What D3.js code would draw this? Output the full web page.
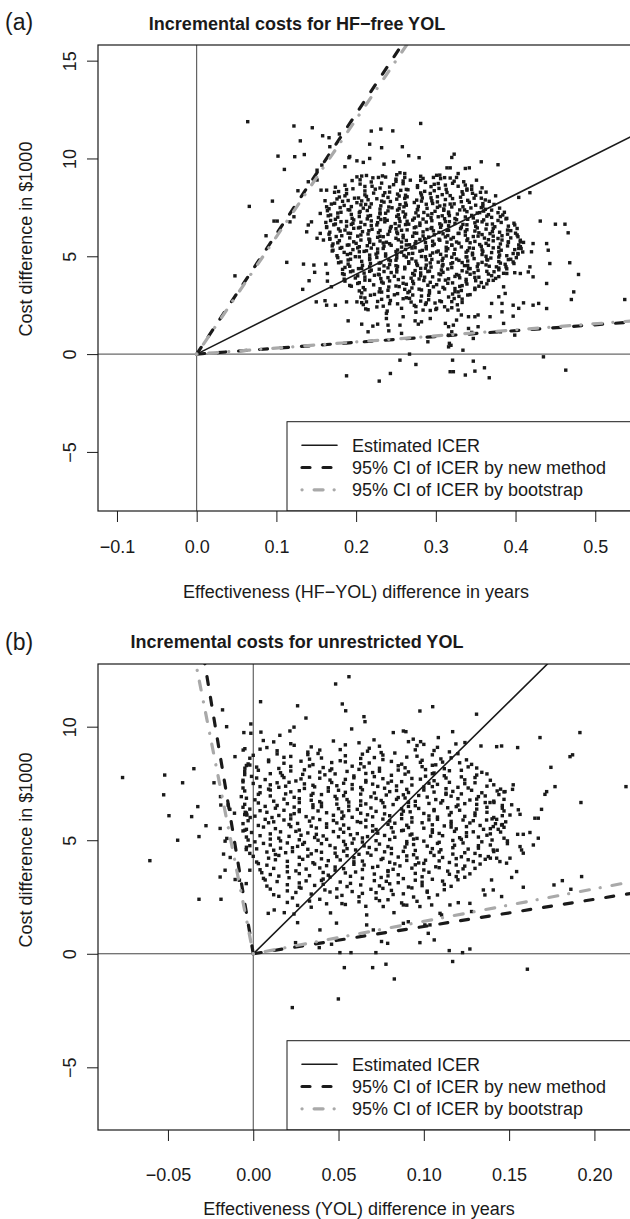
<!DOCTYPE html>
<html>
<head>
<meta charset="utf-8">
<script src="https://cdn.jsdelivr.net/npm/d3@7"></script>
<style>
  body { margin: 0; background: #fff; }
  svg { display: block; }
</style>
</head>
<body>
<script>
// ---- data ----
// panel (a): effectiveness (HF-YOL, years) vs cost ($1000)
const aPoints = [
  // scattered points round the cloud
  [.064,11.88],[.122,11.66],[.145,11.57],[.158,11.16],[.166,11.06],[.179,11.25],[.130,10.9],[.167,10.6],[.102,10.12],[.123,10.09],[.135,10.2],[.191,10.04],[.110,9.44],[.151,9.4],[.157,9.66],[.186,9.58],
  [.066,7.55],[.095,7.82],[.097,6.8],[.101,6.8],[.127,8.35],[.048,4.0],[.113,4.69],[.134,4.6],[.141,3.75],[.133,3.31],[.148,4.18],[.147,4.55],[.162,4.6],[.164,4.12],[.164,3.73],[.169,3.44],[.161,2.73],[.174,2.5],
  [.117,6.76],[.122,7.02],[.087,6.05],[.140,6.6],[.138,6.25],[.144,6.76],[.159,5.83],[.155,6.17],[.151,5.92],
  [.140,8.81],[.156,8.38],[.163,8.38],[.151,8.9],[.161,7.84],[.163,7.53],[.155,7.19],
  [.281,11.79],[.219,11.4],[.231,11.5],[.246,11.41],[.217,10.73],[.232,10.55],[.258,10.6],[.266,10.14],[.279,10.04],[.320,10.05],[.323,10.22],
  [.192,10.1],[.201,9.88],[.209,9.8],[.217,10.0],[.235,9.71],[.247,9.83],[.357,9.83],[.378,9.68],
  [.314,9.52],[.318,9.52],[.337,9.49],[.342,9.52],[.328,9.23],[.326,9.03],
  [.255,9.27],[.261,9.23],[.201,9.06],[.207,9.1],[.228,9.03],[.233,9.11],[.268,8.89],[.284,8.98],[.297,9.03],[.305,9.15],
  [.337,8.64],[.345,8.42],[.351,8.89],[.375,8.09],[.404,8.01],[.418,8.25],
  [.431,6.80],[.450,6.64],[.462,6.64],[.466,6.2],[.439,5.65],[.441,5.31],[.443,4.63],[.468,4.67],[.479,4.07],
  [.406,5.74],[.410,5.71],[.420,5.23],[.422,5.65],[.404,5.4],[.403,5.14],
  [.376,4.46],[.389,4.12],[.399,4.16],[.406,4.12],[.416,4.2],[.418,4.46],[.422,3.95],
  [.439,3.61],[.473,3.18],[.470,2.79],[.537,2.79],[.422,2.5],[.429,2.59],[.439,2.33],
  [.385,3.44],[.387,3.1],[.379,2.93],[.370,2.59],
  [.188,-1.11],[.229,-1.38],[.243,-0.99],[.267,0],[.255,-0.31],[.275,-0.53],[.321,-0.31],[.334,0.2],[.347,-0.36],[.318,-0.9],[.322,-0.9],[.337,-1.07],[.349,-0.87],[.361,-0.7],[.367,-1.21],[.435,-0.14],[.463,-0.82],[.316,0.37],[.290,0.63],[.317,0.55],[.319,0.45],
  [.368,1.91],[.383,2.16],[.385,1.57],[.397,1.94],[.381,1.14],[.399,0.97],[.383,2.59],[.397,2.5],[.404,2.34],[.410,2.62],
  [.341,1.31],[.345,1.11],[.347,0.80],[.353,1.40],[.328,2.25],[.332,2.0],[.341,1.91],[.349,1.91],[.353,2.0],
  [.312,1.57],[.316,1.40],[.322,1.48],[.326,1.74],[.320,1.14],[.316,0.97],
  [.284,2.25],[.288,2.62],[.301,2.34],[.307,2.68],[.274,1.70],[.282,1.65],[.278,1.53],[.293,1.82],
  [.255,1.48],[.257,1.06],[.259,1.91],[.238,2.08],[.238,1.82],[.240,1.48],[.241,1.19],
  [.190,1.70],[.207,1.53],[.215,1.14],[.221,1.43],[.227,1.53],[.188,2.67],[.201,2.67],[.213,2.67],[.163,2.50],[.150,2.67],
  // dense core, row by row from the top
  [.213,9.13],[.237,9.05],[.251,9.17],[.281,9.09],[.301,9.14],[.311,9.02],
  [.205,8.91],[.221,9.01],[.25,8.94],[.261,9.03],[.281,8.88],[.306,8.97],[.318,9.0],
  [.195,8.87],[.219,8.8],[.232,8.74],[.25,8.83],[.259,8.85],[.287,8.78],[.303,8.72],[.323,8.84],[.335,8.81],
  [.186,8.63],[.205,8.69],[.22,8.58],[.247,8.66],[.259,8.71],[.277,8.61],[.298,8.68],[.312,8.64],[.321,8.73],[.345,8.59],
  [.174,8.53],[.196,8.45],[.211,8.57],[.23,8.49],[.242,8.54],[.263,8.42],[.277,8.52],[.294,8.56],[.304,8.47],[.328,8.58],[.339,8.44],[.358,8.5],
  [.178,8.31],[.188,8.41],[.211,8.34],[.224,8.43],[.242,8.28],[.256,8.37],[.265,8.4],[.286,8.32],[.298,8.35],[.313,8.42],[.333,8.3],[.339,8.38],[.356,8.27],
  [.173,8.27],[.188,8.2],[.211,8.14],[.222,8.23],[.236,8.25],[.252,8.18],[.262,8.12],[.281,8.24],[.293,8.21],[.308,8.15],[.314,8.26],[.334,8.17],[.346,8.22],[.363,8.28],
  [.179,8.03],[.186,8.09],[.203,7.98],[.213,8.06],[.234,8.11],[.24,8.01],[.254,8.08],[.264,8.04],[.282,8.13],[.294,7.99],[.302,8.05],[.318,8.1],[.331,8.02],[.35,8.12],[.357,7.97],
  [.176,7.93],[.19,7.85],[.198,7.97],[.215,7.89],[.226,7.94],[.232,7.82],[.251,7.92],[.261,7.96],[.276,7.87],[.283,7.98],[.295,7.84],[.312,7.9],[.321,7.95],[.34,7.86],[.348,7.97],[.362,7.88],
  [.173,7.71],[.183,7.81],[.201,7.74],[.207,7.83],[.219,7.68],[.235,7.77],[.243,7.8],[.262,7.72],[.273,7.75],[.282,7.82],[.296,7.7],[.302,7.78],[.318,7.67],[.332,7.79],[.342,7.76],[.359,7.69],[.367,7.81],
  [.169,7.67],[.185,7.6],[.194,7.54],[.206,7.63],[.212,7.65],[.231,7.58],[.241,7.52],[.255,7.64],[.263,7.61],[.278,7.55],[.288,7.66],[.305,7.57],[.311,7.62],[.323,7.68],[.334,7.53],[.35,7.61],[.359,7.56],[.373,7.65],
  [.166,7.43],[.18,7.49],[.19,7.38],[.209,7.46],[.217,7.51],[.23,7.41],[.245,7.48],[.254,7.44],[.26,7.53],[.277,7.39],[.289,7.45],[.302,7.5],[.31,7.42],[.32,7.52],[.336,7.37],[.344,7.47],[.357,7.49],[.362,7.4],[.38,7.46],
  [.164,7.33],[.181,7.25],[.192,7.37],[.205,7.29],[.214,7.34],[.23,7.22],[.24,7.32],[.252,7.36],[.259,7.27],[.277,7.38],[.285,7.24],[.299,7.3],[.31,7.35],[.316,7.26],[.33,7.37],[.339,7.28],[.355,7.23],[.36,7.31],[.37,7.36],[.386,7.25],
  [.168,7.11],[.177,7.21],[.194,7.14],[.204,7.23],[.218,7.08],[.23,7.17],[.237,7.2],[.253,7.12],[.262,7.15],[.275,7.22],[.29,7.1],[.295,7.18],[.308,7.07],[.316,7.19],[.327,7.16],[.345,7.09],[.352,7.21],[.366,7.13],[.378,7.23],[.384,7.11],
  [.165,7.07],[.177,7.0],[.195,6.94],[.204,7.03],[.215,7.05],[.228,6.98],[.236,6.92],[.251,7.04],[.261,7.01],[.273,6.95],[.278,7.06],[.294,6.97],[.303,7.02],[.317,7.08],[.324,6.93],[.337,7.01],[.347,6.96],[.364,7.05],[.37,6.99],[.381,7.03],[.389,6.94],
  [.168,6.83],[.174,6.89],[.188,6.78],[.197,6.86],[.214,6.91],[.219,6.81],[.231,6.88],[.239,6.84],[.254,6.93],[.264,6.79],[.271,6.85],[.284,6.9],[.295,6.82],[.311,6.92],[.317,6.77],[.326,6.87],[.34,6.89],[.352,6.8],[.36,6.86],[.378,6.83],[.388,6.91],
  [.162,6.73],[.174,6.65],[.181,6.77],[.196,6.69],[.206,6.74],[.211,6.62],[.227,6.72],[.236,6.76],[.249,6.67],[.255,6.78],[.266,6.64],[.28,6.7],[.288,6.75],[.305,6.66],[.312,6.77],[.324,6.68],[.334,6.63],[.349,6.71],[.358,6.76],[.371,6.65],[.382,6.73],[.398,6.69],
  [.163,6.51],[.172,6.61],[.188,6.54],[.194,6.63],[.205,6.48],[.219,6.57],[.226,6.6],[.244,6.52],[.254,6.55],[.262,6.62],[.275,6.5],[.28,6.58],[.295,6.47],[.307,6.59],[.316,6.56],[.332,6.49],[.339,6.61],[.35,6.53],[.364,6.63],[.374,6.51],[.391,6.54],[.399,6.6],
  [.163,6.47],[.178,6.4],[.186,6.34],[.197,6.43],[.203,6.45],[.22,6.38],[.23,6.32],[.243,6.44],[.25,6.41],[.264,6.35],[.273,6.46],[.289,6.37],[.294,6.42],[.306,6.48],[.316,6.33],[.331,6.41],[.339,6.36],[.352,6.45],[.363,6.39],[.372,6.43],[.39,6.34],[.402,6.42],
  [.167,6.23],[.18,6.29],[.19,6.18],[.208,6.26],[.216,6.31],[.228,6.21],[.242,6.28],[.251,6.24],[.257,6.33],[.273,6.19],[.284,6.25],[.297,6.3],[.304,6.22],[.314,6.32],[.329,6.17],[.337,6.27],[.349,6.29],[.354,6.2],[.371,6.26],[.38,6.23],[.394,6.31],[.4,6.18],
  [.166,6.13],[.182,6.05],[.193,6.17],[.206,6.09],[.215,6.14],[.23,6.02],[.24,6.12],[.252,6.16],[.259,6.07],[.276,6.18],[.284,6.04],[.298,6.1],[.309,6.15],[.315,6.06],[.328,6.17],[.337,6.08],[.353,6.03],[.358,6.11],[.368,6.16],[.383,6.05],[.39,6.13],[.402,6.09],
  [.167,5.91],[.175,6.01],[.192,5.94],[.202,6.03],[.216,5.88],[.227,5.97],[.234,6.0],[.25,5.92],[.259,5.95],[.271,6.02],[.286,5.9],[.291,5.98],[.304,5.87],[.312,5.99],[.322,5.96],[.34,5.89],[.347,6.01],[.361,5.93],[.372,6.03],[.378,5.91],[.394,5.94],[.403,6.0],
  [.167,5.87],[.179,5.8],[.197,5.74],[.206,5.83],[.217,5.85],[.23,5.78],[.238,5.72],[.253,5.84],[.263,5.81],[.275,5.75],[.28,5.86],[.296,5.77],[.305,5.82],[.319,5.88],[.326,5.73],[.339,5.81],[.349,5.76],[.366,5.85],[.372,5.79],[.383,5.83],[.391,5.74],[.406,5.82],
  [.171,5.63],[.177,5.69],[.191,5.58],[.2,5.66],[.217,5.71],[.222,5.61],[.234,5.68],[.242,5.64],[.257,5.73],[.267,5.59],[.274,5.65],[.287,5.7],[.298,5.62],[.314,5.72],[.32,5.57],[.329,5.67],[.343,5.69],[.355,5.6],[.363,5.66],[.381,5.63],[.391,5.71],[.404,5.58],
  [.17,5.53],[.182,5.45],[.189,5.57],[.204,5.49],[.214,5.54],[.219,5.42],[.235,5.52],[.244,5.56],[.257,5.47],[.263,5.58],[.274,5.44],[.288,5.5],[.296,5.55],[.313,5.46],[.32,5.57],[.332,5.48],[.342,5.43],[.357,5.51],[.366,5.56],[.379,5.45],[.39,5.53],[.406,5.49],
  [.171,5.31],[.18,5.41],[.196,5.34],[.202,5.43],[.213,5.28],[.227,5.37],[.234,5.4],[.252,5.32],[.262,5.35],[.27,5.42],[.283,5.3],[.288,5.38],[.303,5.27],[.315,5.39],[.324,5.36],[.34,5.29],[.347,5.41],[.358,5.33],[.372,5.43],[.382,5.31],[.399,5.34],[.407,5.4],
  [.17,5.27],[.185,5.2],[.193,5.14],[.204,5.23],[.21,5.25],[.227,5.18],[.237,5.12],[.25,5.24],[.257,5.21],[.271,5.15],[.28,5.26],[.296,5.17],[.301,5.22],[.313,5.28],[.323,5.13],[.338,5.21],[.346,5.16],[.359,5.25],[.37,5.19],[.379,5.23],[.397,5.14],[.409,5.22],
  [.176,5.03],[.189,5.09],[.199,4.98],[.217,5.06],[.225,5.11],[.237,5.01],[.251,5.08],[.26,5.04],[.266,5.13],[.282,4.99],[.293,5.05],[.306,5.1],[.313,5.02],[.323,5.12],[.338,4.97],[.346,5.07],[.358,5.09],[.363,5.0],[.38,5.06],[.389,5.03],[.403,5.11],
  [.177,4.93],[.193,4.85],[.204,4.97],[.217,4.89],[.226,4.94],[.241,4.82],[.251,4.92],[.263,4.96],[.27,4.87],[.287,4.98],[.295,4.84],[.309,4.9],[.32,4.95],[.326,4.86],[.339,4.97],[.348,4.88],[.364,4.83],[.369,4.91],[.379,4.96],[.394,4.85],[.401,4.93],
  [.181,4.71],[.19,4.81],[.207,4.74],[.217,4.83],[.231,4.68],[.243,4.77],[.25,4.8],[.266,4.72],[.275,4.75],[.288,4.82],[.303,4.7],[.308,4.78],[.321,4.67],[.329,4.79],[.34,4.76],[.358,4.69],[.365,4.81],[.379,4.73],[.391,4.83],[.397,4.71],
  [.178,4.67],[.19,4.6],[.208,4.54],[.218,4.63],[.229,4.65],[.242,4.58],[.25,4.52],[.266,4.64],[.276,4.61],[.288,4.55],[.293,4.66],[.309,4.57],[.319,4.62],[.333,4.68],[.34,4.53],[.353,4.61],[.363,4.56],[.381,4.65],[.387,4.59],[.398,4.63],
  [.186,4.43],[.192,4.49],[.207,4.38],[.217,4.46],[.235,4.51],[.24,4.41],[.252,4.48],[.261,4.44],[.277,4.53],[.287,4.39],[.294,4.45],[.308,4.5],[.32,4.42],[.336,4.52],[.343,4.37],[.352,4.47],[.367,4.49],[.379,4.4],[.388,4.46],
  [.183,4.33],[.196,4.25],[.203,4.37],[.219,4.29],[.229,4.34],[.235,4.22],[.251,4.32],[.261,4.36],[.274,4.27],[.281,4.38],[.292,4.24],[.307,4.3],[.315,4.35],[.333,4.26],[.341,4.37],[.353,4.28],[.364,4.23],[.379,4.31],[.389,4.36],
  [.183,4.11],[.193,4.21],[.21,4.14],[.217,4.23],[.228,4.08],[.244,4.17],[.251,4.2],[.271,4.12],[.281,4.15],[.29,4.22],[.304,4.1],[.309,4.18],[.326,4.07],[.339,4.19],[.348,4.16],[.366,4.09],[.373,4.21],[.385,4.13],
  [.185,4.07],[.202,4.0],[.211,3.94],[.223,4.03],[.229,4.05],[.248,3.98],[.259,3.92],[.273,4.04],[.281,4.01],[.296,3.95],[.306,4.06],[.324,3.97],[.329,4.02],[.343,4.08],[.354,3.93],[.37,4.01],[.379,3.96],
  [.185,3.83],[.199,3.89],[.211,3.78],[.231,3.86],[.24,3.91],[.253,3.81],[.269,3.88],[.279,3.84],[.286,3.93],[.304,3.79],[.316,3.85],[.33,3.9],[.338,3.82],[.349,3.92],[.366,3.77],[.375,3.87],
  [.186,3.73],[.204,3.65],[.217,3.77],[.232,3.69],[.242,3.74],[.259,3.62],[.271,3.72],[.285,3.76],[.293,3.67],[.312,3.78],[.321,3.64],[.338,3.7],[.35,3.75],[.357,3.66],[.372,3.77],
  [.192,3.51],[.202,3.61],[.222,3.54],[.234,3.63],[.25,3.48],[.263,3.57],[.272,3.6],[.29,3.52],[.301,3.55],[.315,3.62],[.333,3.5],[.339,3.58],[.354,3.47],[.364,3.59],
  [.194,3.47],[.209,3.4],[.23,3.34],[.241,3.43],[.254,3.45],[.27,3.38],[.279,3.32],[.297,3.44],[.309,3.41],[.324,3.35],[.33,3.46],[.349,3.37],[.36,3.42],
  [.204,3.23],[.211,3.29],[.229,3.18],[.24,3.26],[.261,3.31],[.267,3.21],[.282,3.28],[.292,3.24],[.311,3.33],[.324,3.19],[.332,3.25],[.349,3.3],
  [.207,3.13],[.223,3.05],[.232,3.17],[.252,3.09],[.265,3.14],[.271,3.02],[.292,3.12],[.304,3.16],[.321,3.07],[.328,3.18],[.343,3.04],
  [.206,2.91],[.218,3.01],[.24,2.94],[.248,3.03],[.263,2.88],[.282,2.97],[.291,3.0],[.316,2.92],[.329,2.95],[.34,3.02],
  [.211,2.87],[.232,2.8],[.243,2.74],[.259,2.83],[.267,2.85],[.291,2.78],[.305,2.72],[.323,2.84],[.333,2.81],
  [.207,2.63],[.227,2.69],[.242,2.58],[.269,2.66],[.281,2.71],[.299,2.61],[.32,2.68],[.333,2.64],
  [.209,2.53],[.234,2.45],[.252,2.57],[.273,2.49],[.287,2.54],[.311,2.42],[.327,2.52],
  [.212,2.31],[.226,2.41],[.257,2.34],[.275,2.43],[.3,2.28],[.32,2.37],
  [.215,2.27],[.239,2.2],[.275,2.14],[.293,2.23],[.315,2.25]
];
// slopes of the ICER rays ($1000 per year)
const aIcer = 20.4;
const aNewCI = [3.0, 61.4];
const aBootCI = [3.1, 60.0];
const aXTicks = [-0.1, 0.0, 0.1, 0.2, 0.3, 0.4, 0.5];
const aYTicks = [-5, 0, 5, 10, 15];

// panel (b): effectiveness (YOL, years) vs cost ($1000)
const bPoints = [
  // scattered points round the cloud
  [-.0766,7.76],[-.0519,7.87],[-.0414,7.53],[-.0348,8.15],[-.0525,7.0],[-.0494,6.08],[-.0443,5.0],[-.0606,4.10],[-.0318,5.16],[-.0361,6.04],[-.0325,6.48],[-.0277,5.64],[-.0318,2.40],[-.0189,2.40],[-.023,7.53],[-.018,10.74],[-.0156,10.0],[-.0107,8.68],[-.0059,8.97],[-.0049,9.03],[-.0055,9.74],[-.0014,10.12],[-.0014,9.71],[-.0049,8.17],[-.002,8.31],
  [-.0192,6.92],[-.019,6.55],[-.0147,6.55],[-.0137,6.36],[-.011,6.19],[-.0047,6.23],[-.0037,6.11],[-.0018,6.0],[-.0194,5.52],[-.0165,4.96],[-.0155,5.08],[-.0174,4.39],[-.0135,4.24],[-.0165,3.68],[-.0194,3.38],[-.0106,3.27],[-.0081,3.24],[-.0041,3.09],[-.002,3.68],[-.0041,4.59],[-.0049,5.44],
  [.0043,11.1],[.0045,9.76],[.0059,9.39],[.0156,9.62],[.0215,9.81],[.0239,9.98],[.026,10.92],[.0309,10.38],[.0483,11.88],[.0561,12.2],[.0522,11.0],[.0542,10.7],[.0577,9.9],[.0649,10.44],[.0655,10.22],[.0821,9.74],[.088,9.81],[.0895,9.78],[.0977,10.69],[.1052,10.88],[.1309,10.55],[.1169,9.78],[.1681,9.52],[.1915,9.74],[.0708,9.42],[.0938,9.45],[.0981,9.34],[.1085,9.52],[.1188,9.24],[.1241,9.3],[.1335,9.15],[.1427,9.12],[.1456,9.15],[.155,9.08],
  [.1857,8.68],[.1872,8.76],[.1745,8.21],[.2185,7.36],[.1921,6.66],[.1769,7.36],[.172,7.14],[.171,7.02],[.1524,7.44],[.152,7.24],[.1476,7.14],[.1388,6.66],[.1411,6.66],[.1515,6.56],[.1554,6.34],[.1505,6.11],[.169,6.36],[.1671,5.09],[.1642,4.79],[.1763,3.03],[.1812,3.22],[.1925,3.4],
  [.1564,6.14],[.1651,5.97],[.1671,5.97],[.1427,5.92],[.1456,5.67],[.1407,5.6],[.1436,5.48],[.1368,5.89],[.1622,5.34],[.1583,5.26],[.155,5.26],[.1564,4.72],[.1573,4.57],[.1583,4.43],[.1505,4.21],[.1485,3.99],[.1544,3.62],[.1515,3.36],[.1397,3.25],[.1407,2.81],[.1349,2.81],[.1358,2.59],[.1456,2.52],[.1583,2.93],[.1862,2.84],[.1407,4.57],[.1378,4.28],[.1427,4.21],[.1446,4.06],
  [.0665,1.71],[.0762,2.08],[.088,2.15],[.0977,2.08],[.1046,2.15],[.1095,1.78],[.1153,2.15],[.127,2.22],
  [.0088,1.78],[.0123,1.93],[.0182,1.81],[.0239,1.75],[.026,1.37],[.0248,0.49],[.0387,0.27],[.0391,1.05],[.0459,0.42],[.0508,0.05],[.0573,0.05],[.0534,-0.61],[.0499,-1.99],[.0229,-2.37],[.07,-0.61],[.0778,-0.46],[.0827,-1.11],[.0719,0.05],[.0752,0.54],[.0788,0.46],[.1149,0.14],[.1227,0.05],[.127,0.21],[.1169,-0.34],[.1607,-0.68],[.0977,0.49],[.1061,0.61],[.1026,0.9],[.0665,1.27],[.0704,1.05],[.088,1.34],[.0909,1.41],[.1006,1.27],[.1036,1.27],[.1104,1.71],[.128,1.86],[.1202,2.25],[.0825,1.81],[.0453,1.8],[.0488,1.35],[.043,2.2],
  // dense core, row by row from the top
  [.012,9.33],[.022,9.25],[.047,9.37],[.062,9.29],[.091,9.34],[.1,9.22],
  [.008,9.08],[.024,9.18],[.034,9.11],[.054,9.2],[.068,9.05],[.074,9.14],[.096,9.17],[.108,9.09],
  [.004,9.01],[.014,8.94],[.032,8.88],[.039,8.97],[.051,8.99],[.067,8.92],[.075,8.86],[.095,8.98],[.106,8.95],[.115,8.89],
  [0,8.74],[.014,8.8],[.022,8.69],[.032,8.77],[.038,8.82],[.054,8.72],[.064,8.79],[.076,8.75],[.083,8.84],[.096,8.7],[.105,8.76],[.12,8.81],
  [-.002,8.61],[.009,8.53],[.018,8.65],[.033,8.57],[.04,8.62],[.051,8.5],[.063,8.6],[.071,8.64],[.076,8.55],[.09,8.66],[.099,8.52],[.11,8.58],[.116,8.63],[.125,8.54],
  [-.003,8.36],[.009,8.46],[.018,8.39],[.028,8.48],[.035,8.33],[.046,8.42],[.054,8.45],[.063,8.37],[.068,8.4],[.081,8.47],[.087,8.35],[.098,8.43],[.107,8.32],[.111,8.44],[.121,8.41],[.128,8.34],
  [-.004,8.29],[.002,8.22],[.015,8.16],[.022,8.25],[.033,8.27],[.041,8.2],[.046,8.14],[.058,8.26],[.065,8.23],[.074,8.17],[.085,8.28],[.089,8.19],[.099,8.24],[.105,8.3],[.112,8.15],[.126,8.23],[.131,8.18],
  [-.005,8.02],[.003,8.08],[.016,7.97],[.022,8.05],[.03,8.1],[.039,8.0],[.045,8.07],[.055,8.03],[.062,8.12],[.07,7.98],[.074,8.04],[.085,8.09],[.091,8.01],[.101,8.11],[.106,7.96],[.115,8.06],[.122,8.08],[.134,7.99],
  [-.005,7.89],[-.001,7.81],[.01,7.93],[.017,7.85],[.029,7.9],[.033,7.78],[.042,7.88],[.048,7.92],[.059,7.83],[.066,7.94],[.071,7.8],[.081,7.86],[.089,7.91],[.101,7.82],[.105,7.93],[.112,7.84],[.122,7.79],[.131,7.87],[.137,7.92],
  [-.006,7.64],[.002,7.74],[.007,7.67],[.018,7.76],[.025,7.61],[.028,7.7],[.039,7.73],[.045,7.65],[.054,7.68],[.059,7.75],[.066,7.63],[.076,7.71],[.081,7.6],[.093,7.72],[.098,7.69],[.106,7.62],[.113,7.74],[.124,7.66],[.13,7.76],[.139,7.64],
  [-.006,7.57],[0,7.5],[.01,7.44],[.014,7.53],[.021,7.55],[.03,7.48],[.035,7.42],[.046,7.54],[.053,7.51],[.058,7.45],[.066,7.56],[.07,7.47],[.079,7.52],[.087,7.58],[.093,7.43],[.103,7.51],[.108,7.46],[.115,7.55],[.124,7.49],[.13,7.53],[.141,7.44],
  [-.006,7.3],[.004,7.36],[.009,7.25],[.015,7.33],[.019,7.38],[.03,7.28],[.036,7.35],[.044,7.31],[.049,7.4],[.058,7.26],[.063,7.32],[.073,7.37],[.077,7.29],[.084,7.39],[.09,7.24],[.1,7.34],[.105,7.36],[.113,7.27],[.12,7.33],[.126,7.3],[.137,7.38],[.145,7.25],
  [-.005,7.17],[.004,7.09],[.01,7.21],[.022,7.13],[.027,7.18],[.035,7.06],[.044,7.16],[.05,7.2],[.054,7.11],[.064,7.22],[.071,7.08],[.08,7.14],[.084,7.19],[.091,7.1],[.1,7.21],[.106,7.12],[.113,7.07],[.117,7.15],[.128,7.2],[.134,7.09],[.143,7.17],[.147,7.13],
  [-.007,6.92],[.003,7.02],[.01,6.95],[.019,7.04],[.024,6.89],[.034,6.98],[.04,7.01],[.048,6.93],[.053,6.96],[.063,7.03],[.069,6.91],[.078,6.99],[.085,6.88],[.088,7.0],[.097,6.97],[.102,6.9],[.113,7.02],[.116,6.94],[.122,7.04],[.132,6.92],[.136,6.95],[.144,7.01],
  [-.004,6.85],[.001,6.78],[.012,6.72],[.018,6.81],[.027,6.83],[.034,6.76],[.039,6.7],[.049,6.82],[.055,6.79],[.063,6.73],[.072,6.84],[.075,6.75],[.084,6.8],[.089,6.86],[.095,6.71],[.107,6.79],[.111,6.74],[.12,6.83],[.127,6.77],[.131,6.81],[.141,6.72],[.147,6.8],
  [-.005,6.58],[.003,6.64],[.014,6.53],[.02,6.61],[.027,6.66],[.035,6.56],[.04,6.63],[.049,6.59],[.056,6.68],[.063,6.54],[.066,6.6],[.076,6.65],[.082,6.57],[.091,6.67],[.095,6.52],[.103,6.62],[.11,6.64],[.12,6.55],[.124,6.61],[.131,6.58],[.136,6.66],[.146,6.53],
  [-.006,6.45],[-.002,6.37],[.007,6.49],[.013,6.41],[.024,6.46],[.027,6.34],[.035,6.44],[.04,6.48],[.05,6.39],[.056,6.5],[.061,6.36],[.069,6.42],[.077,6.47],[.087,6.38],[.091,6.49],[.097,6.4],[.106,6.35],[.114,6.43],[.119,6.48],[.131,6.37],[.137,6.45],[.146,6.41],
  [-.004,6.2],[.004,6.3],[.008,6.23],[.018,6.32],[.024,6.17],[.027,6.26],[.038,6.29],[.043,6.21],[.052,6.24],[.056,6.31],[.063,6.19],[.072,6.27],[.077,6.16],[.088,6.28],[.092,6.25],[.1,6.18],[.106,6.3],[.116,6.22],[.121,6.32],[.13,6.2],[.137,6.23],[.147,6.29],
  [-.005,6.13],[.001,6.06],[.011,6.0],[.015,6.09],[.022,6.11],[.031,6.04],[.035,5.98],[.047,6.1],[.053,6.07],[.058,6.01],[.067,6.12],[.07,6.03],[.08,6.08],[.087,6.14],[.093,5.99],[.103,6.07],[.108,6.02],[.115,6.11],[.124,6.05],[.13,6.09],[.141,6.0],[.146,6.08],
  [-.003,5.86],[.007,5.92],[.012,5.81],[.018,5.89],[.022,5.94],[.033,5.84],[.039,5.91],[.047,5.87],[.052,5.96],[.061,5.82],[.066,5.88],[.076,5.93],[.08,5.85],[.087,5.95],[.093,5.8],[.103,5.9],[.108,5.92],[.116,5.83],[.123,5.89],[.129,5.86],[.14,5.94],[.148,5.81],
  [-.006,5.73],[.003,5.65],[.009,5.77],[.021,5.69],[.026,5.74],[.034,5.62],[.043,5.72],[.049,5.76],[.053,5.67],[.063,5.78],[.07,5.64],[.079,5.7],[.083,5.75],[.09,5.66],[.099,5.77],[.105,5.68],[.112,5.63],[.116,5.71],[.127,5.76],[.133,5.65],[.142,5.73],[.146,5.69],
  [-.004,5.48],[.006,5.58],[.013,5.51],[.022,5.6],[.027,5.45],[.037,5.54],[.043,5.57],[.051,5.49],[.056,5.52],[.066,5.59],[.072,5.47],[.081,5.55],[.088,5.44],[.091,5.56],[.1,5.53],[.105,5.46],[.116,5.58],[.119,5.5],[.125,5.6],[.135,5.48],[.139,5.51],[.147,5.57],
  [-.006,5.41],[-.001,5.34],[.01,5.28],[.016,5.37],[.025,5.39],[.032,5.32],[.037,5.26],[.047,5.38],[.053,5.35],[.061,5.29],[.07,5.4],[.073,5.31],[.082,5.36],[.087,5.42],[.093,5.27],[.105,5.35],[.109,5.3],[.118,5.39],[.125,5.33],[.129,5.37],[.139,5.28],[.145,5.36],
  [-.004,5.14],[.004,5.2],[.015,5.09],[.021,5.17],[.028,5.22],[.036,5.12],[.041,5.19],[.05,5.15],[.057,5.24],[.064,5.1],[.067,5.16],[.077,5.21],[.083,5.13],[.092,5.23],[.096,5.08],[.104,5.18],[.111,5.2],[.121,5.11],[.125,5.17],[.132,5.14],[.137,5.22],[.147,5.09],
  [-.003,5.01],[.001,4.93],[.01,5.05],[.016,4.97],[.027,5.02],[.03,4.9],[.038,5.0],[.043,5.04],[.053,4.95],[.059,5.06],[.064,4.92],[.072,4.98],[.08,5.03],[.09,4.94],[.094,5.05],[.1,4.96],[.109,4.91],[.117,4.99],[.122,5.04],[.134,4.93],[.14,5.01],[.149,4.97],
  [-.002,4.76],[.006,4.86],[.01,4.79],[.02,4.88],[.026,4.73],[.029,4.82],[.04,4.85],[.045,4.77],[.054,4.8],[.058,4.87],[.065,4.75],[.074,4.83],[.079,4.72],[.09,4.84],[.094,4.81],[.102,4.74],[.108,4.86],[.118,4.78],[.123,4.88],[.132,4.76],[.139,4.79],[.149,4.85],
  [-.004,4.69],[.002,4.62],[.012,4.56],[.016,4.65],[.023,4.67],[.032,4.6],[.037,4.54],[.048,4.66],[.055,4.63],[.06,4.57],[.068,4.68],[.072,4.59],[.081,4.64],[.089,4.7],[.095,4.55],[.105,4.63],[.11,4.58],[.117,4.67],[.126,4.61],[.132,4.65],[.143,4.56],
  [-.002,4.42],[.008,4.48],[.013,4.37],[.019,4.45],[.023,4.5],[.034,4.4],[.04,4.47],[.048,4.43],[.053,4.52],[.062,4.38],[.067,4.44],[.077,4.49],[.081,4.41],[.088,4.51],[.094,4.36],[.104,4.46],[.109,4.48],[.117,4.39],[.124,4.45],[.13,4.42],[.141,4.5],
  [0,4.29],[.009,4.21],[.015,4.33],[.027,4.25],[.032,4.3],[.04,4.18],[.049,4.28],[.055,4.32],[.059,4.23],[.069,4.34],[.076,4.2],[.085,4.26],[.09,4.31],[.096,4.22],[.106,4.33],[.111,4.24],[.119,4.19],[.122,4.27],[.133,4.32],[.139,4.21],
  [.002,4.04],[.013,4.14],[.02,4.07],[.029,4.16],[.035,4.01],[.044,4.1],[.051,4.13],[.059,4.05],[.064,4.08],[.075,4.15],[.08,4.03],[.09,4.11],[.097,4.0],[.101,4.12],[.109,4.09],[.115,4.02],[.126,4.14],[.129,4.06],[.136,4.16],
  [.003,3.97],[.008,3.9],[.02,3.84],[.027,3.93],[.036,3.95],[.043,3.88],[.048,3.82],[.059,3.94],[.065,3.91],[.073,3.85],[.083,3.96],[.086,3.87],[.095,3.92],[.1,3.98],[.107,3.83],[.119,3.91],[.124,3.86],[.133,3.95],
  [.004,3.7],[.012,3.76],[.025,3.65],[.031,3.73],[.039,3.78],[.048,3.68],[.053,3.75],[.064,3.71],[.07,3.8],[.079,3.66],[.082,3.72],[.093,3.77],[.1,3.69],[.109,3.79],[.114,3.64],[.123,3.74],[.13,3.76],
  [.005,3.57],[.01,3.49],[.02,3.61],[.027,3.53],[.041,3.58],[.044,3.46],[.054,3.56],[.06,3.6],[.071,3.51],[.079,3.62],[.085,3.48],[.095,3.54],[.103,3.59],[.115,3.5],[.12,3.61],[.127,3.52],
  [.006,3.32],[.015,3.42],[.021,3.35],[.033,3.44],[.041,3.29],[.045,3.38],[.057,3.41],[.064,3.33],[.075,3.36],[.079,3.43],[.088,3.31],[.099,3.39],[.105,3.28],[.119,3.4],[.124,3.37],
  [.007,3.25],[.014,3.18],[.027,3.12],[.031,3.21],[.04,3.23],[.051,3.16],[.057,3.1],[.071,3.22],[.078,3.19],[.085,3.13],[.095,3.24],[.099,3.15],[.111,3.2],[.12,3.26],
  [.008,2.98],[.02,3.04],[.027,2.93],[.036,3.01],[.041,3.06],[.055,2.96],[.063,3.03],[.074,2.99],[.08,3.08],[.091,2.94],[.099,3.0],[.112,3.05],[.116,2.97],
  [.01,2.85],[.02,2.77],[.028,2.89],[.042,2.81],[.049,2.86],[.058,2.74],[.069,2.84],[.076,2.88],[.081,2.79],[.093,2.9],[.102,2.76],[.112,2.82],
  [.012,2.6],[.025,2.7],[.034,2.63],[.045,2.72],[.052,2.57],[.064,2.66],[.072,2.69],[.082,2.61],[.088,2.64],[.102,2.71],[.108,2.59],
  [.015,2.53],[.023,2.46],[.039,2.4],[.049,2.49],[.062,2.51],[.072,2.44],[.079,2.38],[.094,2.5],[.103,2.47],
  [.02,2.26],[.033,2.32],[.052,2.21],[.062,2.29],[.074,2.34],[.087,2.24],[.096,2.31],
  [.026,2.13],[.034,2.05],[.054,2.17],[.066,2.09],[.09,2.14]
];
const bIcer = 74;
const bNewCI = [12.0, -450];
const bBootCI = [14.3, -380];
const bXTicks = [-0.05, 0.00, 0.05, 0.10, 0.15, 0.20];
const bYTicks = [-5, 0, 5, 10];

const legendLabels = ["Estimated ICER", "95% CI of ICER by new method", "95% CI of ICER by bootstrap"];

// ---- drawing ----
const FONT = "'Liberation Sans', Arial, Helvetica, sans-serif";
const INK = "#1a1a1a";
const GREY = "#a9a9a9";
const PT = 3.4; // side of the square markers

const svg = d3.select("body").append("svg").attr("width", 630).attr("height", 1219);

const lineStyles = [
  { stroke: INK, width: 1.6, dash: null },
  { stroke: INK, width: 3.2, dash: "8,13" },
  { stroke: GREY, width: 3.2, dash: "0.1,12,9,11" }
];

function drawPanel(p) {
  const x = d3.scaleLinear().domain(p.xDomain).range([p.left, p.right]);
  const y = d3.scaleLinear().domain(p.yDomain).range([p.bottom, p.top]);
  const g = svg.append("g");

  const clipId = "clip" + p.id;
  g.append("clipPath").attr("id", clipId).append("rect")
    .attr("x", p.left).attr("y", p.top)
    .attr("width", p.right - p.left).attr("height", p.bottom - p.top);

  const inner = g.append("g").attr("clip-path", `url(#${clipId})`);

  // reference lines through the origin
  inner.append("line").attr("x1", p.left).attr("x2", p.right)
    .attr("y1", y(0)).attr("y2", y(0)).attr("stroke", "#444").attr("stroke-width", 1);
  inner.append("line").attr("x1", x(0)).attr("x2", x(0))
    .attr("y1", p.top).attr("y2", p.bottom).attr("stroke", "#444").attr("stroke-width", 1);

  // points
  inner.selectAll("rect.pt").data(p.points).enter().append("rect")
    .attr("class", "pt")
    .attr("x", d => x(d[0]) - PT / 2).attr("y", d => y(d[1]) - PT / 2)
    .attr("width", PT).attr("height", PT)
    .attr("fill", INK);

  // rays from origin: positive slope goes right, negative slope goes up-left
  const rays = [
    { slope: p.icer, style: 0 },
    { slope: p.newCI[0], style: 1 }, { slope: p.newCI[1], style: 1 },
    { slope: p.bootCI[0], style: 2 }, { slope: p.bootCI[1], style: 2 }
  ];
  rays.forEach(r => {
    const s = lineStyles[r.style];
    const xe = r.slope > 0 ? 2 : -2;
    inner.append("line")
      .attr("x1", x(0)).attr("y1", y(0))
      .attr("x2", x(xe)).attr("y2", y(r.slope * xe))
      .attr("stroke", s.stroke).attr("stroke-width", s.width)
      .attr("stroke-linecap", "round")
      .attr("stroke-dasharray", s.dash);
  });

  // legend (bottom right, box runs off the page edge like the original)
  const lg = inner.append("g");
  lg.append("rect").attr("x", p.legendLeft).attr("y", p.legendTop)
    .attr("width", 400).attr("height", p.bottom - p.legendTop)
    .attr("fill", "#fff").attr("stroke", INK).attr("stroke-width", 1);
  legendLabels.forEach((lab, i) => {
    const cy = p.legendTop + 23.5 + i * 22.3;
    const s = lineStyles[i];
    lg.append("line").attr("x1", p.legendLeft + 15).attr("x2", p.legendLeft + 50)
      .attr("y1", cy).attr("y2", cy)
      .attr("stroke", s.stroke).attr("stroke-width", s.width)
      .attr("stroke-linecap", "round").attr("stroke-dasharray", s.dash);
    lg.append("text").attr("x", p.legendLeft + 65).attr("y", cy + 6.5)
      .attr("font-family", FONT).attr("font-size", 18).attr("fill", INK)
      .text(lab);
  });

  // frame
  g.append("rect").attr("x", p.left).attr("y", p.top)
    .attr("width", p.right - p.left).attr("height", p.bottom - p.top)
    .attr("fill", "none").attr("stroke", INK).attr("stroke-width", 1.2);

  // axes
  const xa = g.append("g").attr("transform", `translate(0,${p.bottom})`)
    .call(d3.axisBottom(x).tickValues(p.xTicks).tickSize(11).tickPadding(p.xPad).tickFormat(d3.format(p.xFmt)));
  const ya = g.append("g").attr("transform", `translate(${p.left},0)`)
    .call(d3.axisLeft(y).tickValues(p.yTicks).tickSize(11).tickFormat(d3.format("d")));
  [xa, ya].forEach(a => {
    a.select(".domain").remove();
    a.attr("font-family", FONT).attr("font-size", 18);
    a.selectAll("line").attr("stroke", INK).attr("stroke-width", 1);
    a.selectAll("text").attr("fill", INK);
  });
  ya.selectAll("text")
    .attr("x", null).attr("dy", null).attr("text-anchor", "middle")
    .attr("transform", "translate(-22,0) rotate(-90)");

  // labels
  g.append("text").attr("x", 5).attr("y", p.letterY)
    .attr("font-family", FONT).attr("font-size", 23).attr("fill", INK).text(p.letter);
  g.append("text").attr("x", 297).attr("y", p.titleY).attr("text-anchor", "middle")
    .attr("font-family", FONT).attr("font-size", 18).attr("font-weight", "bold").attr("fill", INK)
    .text(p.title);
  g.append("text").attr("x", p.xlabX).attr("y", p.xlabY).attr("text-anchor", "middle")
    .attr("font-family", FONT).attr("font-size", 18).attr("fill", INK).text(p.xlab);
  g.append("text").attr("transform", `translate(32,${p.ylabY}) rotate(-90)`).attr("text-anchor", "middle")
    .attr("font-family", FONT).attr("font-size", 18).attr("fill", INK).text("Cost difference in $1000");
}

drawPanel({
  id: "a", letter: "(a)", letterY: 30, title: "Incremental costs for HF\u2212free YOL", titleY: 29.5,
  xlab: "Effectiveness (HF\u2212YOL) difference in years", xlabX: 356, xlabY: 598, ylabY: 239,
  points: aPoints, icer: aIcer, newCI: aNewCI, bootCI: aBootCI,
  xDomain: [-0.1238, 0.5762], yDomain: [-8.02, 15.80],
  left: 98, right: 656, top: 45, bottom: 511,
  xTicks: aXTicks, yTicks: aYTicks, xFmt: ".1f", xPad: 18,
  legendLeft: 287, legendTop: 421.7
});

drawPanel({
  id: "b", letter: "(b)", letterY: 650, title: "Incremental costs for unrestricted YOL", titleY: 648,
  xlab: "Effectiveness (YOL) difference in years", xlabX: 359, xlabY: 1214.5, ylabY: 850,
  points: bPoints, icer: bIcer, newCI: bNewCI, bootCI: bBootCI,
  xDomain: [-0.091, 0.232], yDomain: [-7.76, 12.76],
  left: 98, right: 649, top: 664, bottom: 1130,
  xTicks: bXTicks, yTicks: bYTicks, xFmt: ".2f", xPad: 27,
  legendLeft: 287, legendTop: 1040.7
});
</script>
</body>
</html>
